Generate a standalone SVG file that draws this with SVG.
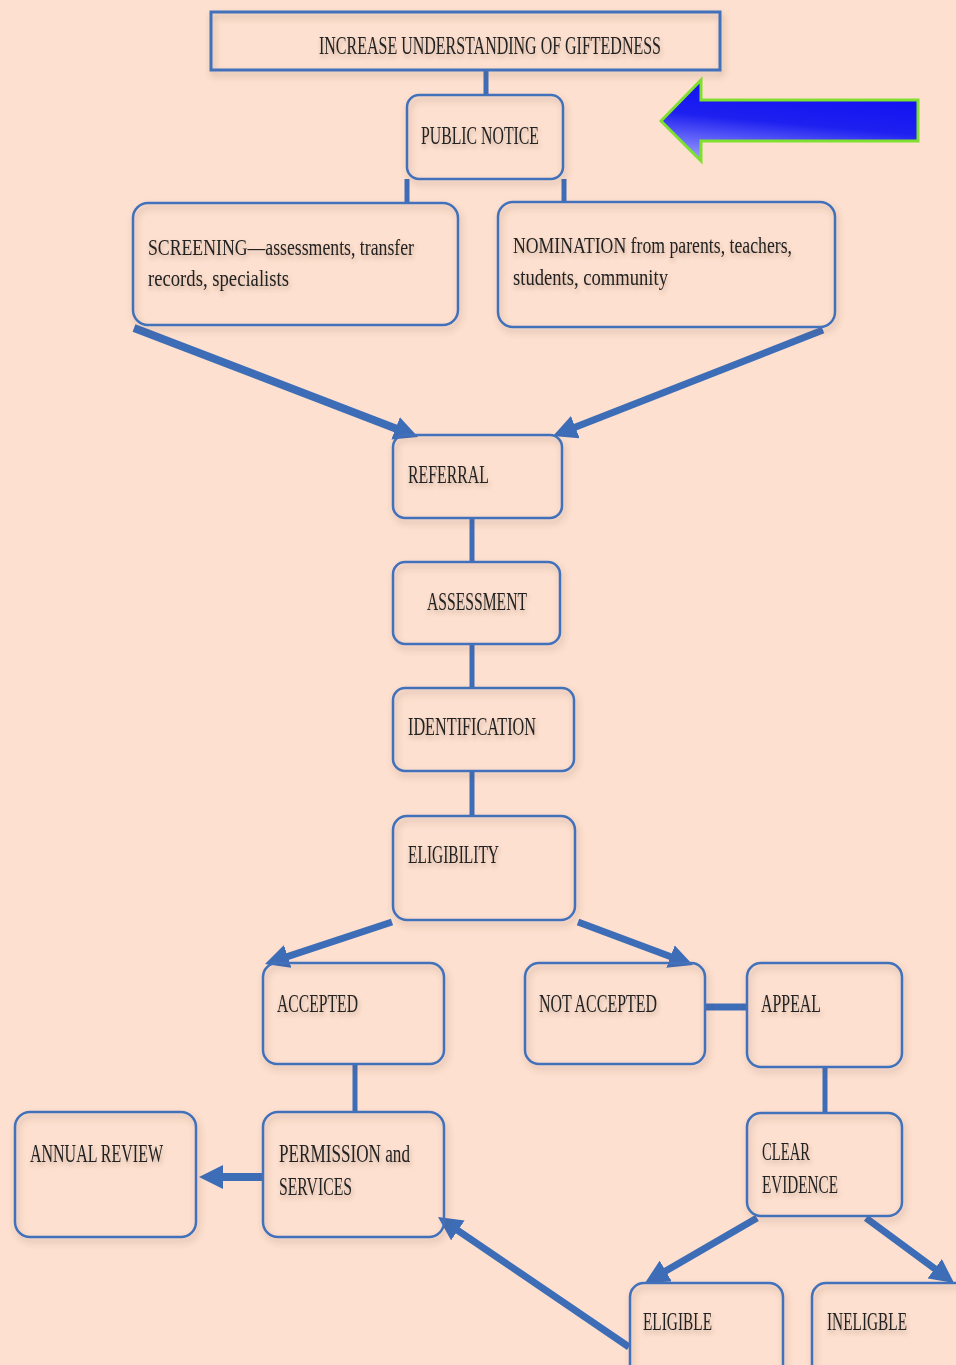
<svg xmlns="http://www.w3.org/2000/svg" width="956" height="1365" viewBox="0 0 956 1365">
<defs>
<style>
.box{fill:none;stroke:#4071BA;stroke-width:2.5;filter:url(#bshadow)}
.t{font-family:"Liberation Serif","DejaVu Serif",serif;font-size:26px;fill:#222;filter:url(#tshadow)}
.tl{font-family:"Liberation Serif","DejaVu Serif",serif;font-size:24px;fill:#222;filter:url(#tshadow)}
.con{stroke:#3E6DB7;stroke-width:5;fill:none}
.arr{stroke:#3E6DB7;stroke-width:7;fill:none;marker-end:url(#ah)}
</style>
<filter id="bshadow" x="-10%" y="-10%" width="130%" height="140%">
<feDropShadow dx="2" dy="4" stdDeviation="3" flood-color="#6b4a3a" flood-opacity="0.3"/>
</filter>
<filter id="tshadow" x="-10%" y="-30%" width="130%" height="180%">
<feDropShadow dx="1" dy="3" stdDeviation="2" flood-color="#6b4a3a" flood-opacity="0.35"/>
</filter>
<marker id="ah" markerUnits="userSpaceOnUse" viewBox="0 0 24 24" markerWidth="24" markerHeight="24" refX="14" refY="12" orient="auto">
<path d="M0,0 L24,12 L0,24 z" fill="#3E6DB7"/>
</marker>
<linearGradient id="bg" x1="0.6" y1="0.15" x2="0.35" y2="1">
<stop offset="0" stop-color="#1212F2"/>
<stop offset="0.45" stop-color="#1E20F0"/>
<stop offset="1" stop-color="#9294FF"/>
</linearGradient>
</defs>
<rect x="0" y="0" width="956" height="1365" fill="#FDE0CF"/>

<g id="connectors">
<line class="con" x1="486" y1="71" x2="486" y2="96"/>
<line class="con" x1="407" y1="179" x2="407" y2="204"/>
<line class="con" x1="564" y1="179" x2="564" y2="203"/>
<line class="con" x1="472" y1="518" x2="472" y2="563"/>
<line class="con" x1="472" y1="644" x2="472" y2="689"/>
<line class="con" x1="472" y1="771" x2="472" y2="817"/>
<line class="con" x1="355" y1="1064" x2="355" y2="1113"/>
<line class="con" style="stroke-width:7" x1="705" y1="1007" x2="747" y2="1007"/>
<line class="con" x1="825" y1="1067" x2="825" y2="1114"/>
<line class="arr" style="stroke-width:8" x1="134" y1="328" x2="408.7" y2="433.4"/>
<line class="arr" x1="823" y1="330" x2="562.3" y2="432.3"/>
<line class="arr" x1="392" y1="922" x2="274.5" y2="960.9"/>
<line class="arr" x1="578" y1="922" x2="683.6" y2="961.5"/>
<line class="arr" style="stroke-width:8" x1="263" y1="1177" x2="209" y2="1177"/>
<line class="arr" x1="757" y1="1218" x2="653.6" y2="1278"/>
<line class="arr" x1="866" y1="1218" x2="946" y2="1277"/>
<line class="arr" x1="629" y1="1347" x2="446.3" y2="1222.6"/>
</g>

<g id="big-arrow">
<polygon points="661,121 701,80 701,100 918,100 918,141 701,141 701,161" fill="url(#bg)" stroke="#80E030" stroke-width="3" stroke-linejoin="miter"/>
</g>

<g id="n-top">
<rect class="box" x="211" y="12" width="509" height="58" style="stroke-width:3"/>
<text class="t" x="319" y="54" textLength="342" lengthAdjust="spacingAndGlyphs">INCREASE UNDERSTANDING OF GIFTEDNESS</text>
</g>
<g id="n-public-notice">
<rect class="box" x="407" y="95" width="156" height="84" rx="12"/>
<text class="t" x="421" y="144" textLength="118" lengthAdjust="spacingAndGlyphs">PUBLIC NOTICE</text>
</g>
<g id="n-screening">
<rect class="box" x="133" y="203" width="325" height="122" rx="15"/>
<text class="tl" x="148" y="255" textLength="266" lengthAdjust="spacingAndGlyphs">SCREENING—assessments, transfer</text>
<text class="tl" x="148" y="286" textLength="141" lengthAdjust="spacingAndGlyphs">records, specialists</text>
</g>
<g id="n-nomination">
<rect class="box" x="498" y="202" width="337" height="125" rx="15"/>
<text class="tl" x="513" y="253" textLength="279" lengthAdjust="spacingAndGlyphs">NOMINATION from parents, teachers,</text>
<text class="tl" x="513" y="285" textLength="155" lengthAdjust="spacingAndGlyphs">students, community</text>
</g>
<g id="n-referral">
<rect class="box" x="393" y="435" width="169" height="83" rx="12"/>
<text class="t" x="408" y="483" textLength="81" lengthAdjust="spacingAndGlyphs">REFERRAL</text>
</g>
<g id="n-assessment">
<rect class="box" x="393" y="562" width="167" height="82" rx="12"/>
<text class="t" x="427" y="610" textLength="100" lengthAdjust="spacingAndGlyphs">ASSESSMENT</text>
</g>
<g id="n-identification">
<rect class="box" x="393" y="688" width="181" height="83" rx="12"/>
<text class="t" x="408" y="735" textLength="128" lengthAdjust="spacingAndGlyphs">IDENTIFICATION</text>
</g>
<g id="n-eligibility">
<rect class="box" x="393" y="816" width="182" height="104" rx="14"/>
<text class="t" x="408" y="863" textLength="91" lengthAdjust="spacingAndGlyphs">ELIGIBILITY</text>
</g>
<g id="n-accepted">
<rect class="box" x="263" y="963" width="181" height="101" rx="14"/>
<text class="t" x="277" y="1012" textLength="81" lengthAdjust="spacingAndGlyphs">ACCEPTED</text>
</g>
<g id="n-not-accepted">
<rect class="box" x="525" y="963" width="180" height="101" rx="14"/>
<text class="t" x="539" y="1012" textLength="118" lengthAdjust="spacingAndGlyphs">NOT ACCEPTED</text>
</g>
<g id="n-appeal">
<rect class="box" x="747" y="963" width="155" height="104" rx="14"/>
<text class="t" x="761" y="1012" textLength="60" lengthAdjust="spacingAndGlyphs">APPEAL</text>
</g>
<g id="n-annual-review">
<rect class="box" x="15" y="1112" width="181" height="125" rx="15"/>
<text class="t" x="30" y="1162" textLength="133" lengthAdjust="spacingAndGlyphs">ANNUAL REVIEW</text>
</g>
<g id="n-permission">
<rect class="box" x="263" y="1112" width="181" height="125" rx="15"/>
<text class="t" x="279" y="1162" textLength="131" lengthAdjust="spacingAndGlyphs">PERMISSION  and</text>
<text class="t" x="279" y="1195" textLength="73" lengthAdjust="spacingAndGlyphs">SERVICES</text>
</g>
<g id="n-clear-evidence">
<rect class="box" x="747" y="1113" width="155" height="103" rx="14"/>
<text class="t" x="762" y="1160" textLength="48" lengthAdjust="spacingAndGlyphs">CLEAR</text>
<text class="t" x="762" y="1193" textLength="76" lengthAdjust="spacingAndGlyphs">EVIDENCE</text>
</g>
<g id="n-eligible">
<rect class="box" x="630" y="1283" width="153" height="100" rx="14"/>
<text class="t" x="643" y="1330" textLength="69" lengthAdjust="spacingAndGlyphs">ELIGIBLE</text>
</g>
<g id="n-ineligble">
<rect class="box" x="812" y="1283" width="160" height="100" rx="14"/>
<text class="t" x="827" y="1330" textLength="80" lengthAdjust="spacingAndGlyphs">INELIGBLE</text>
</g>
</svg>
